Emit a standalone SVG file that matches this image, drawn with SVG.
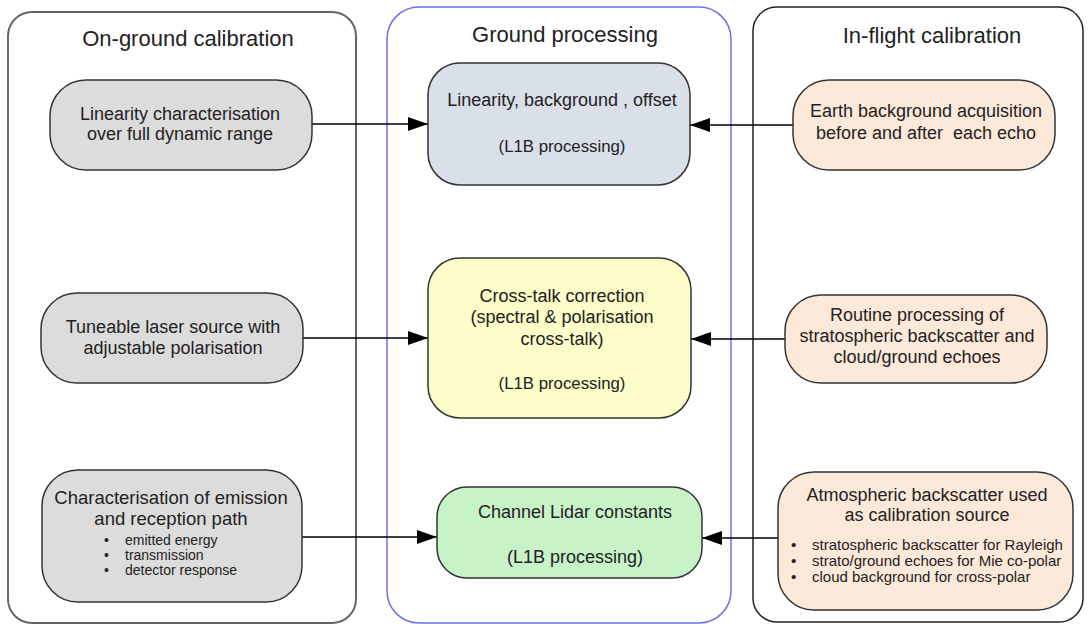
<svg xmlns="http://www.w3.org/2000/svg" width="1089" height="624" viewBox="0 0 1089 624">
<style>
text{font-family:"Liberation Sans",Arial,sans-serif;fill:#222}
.title{font-size:22px;text-anchor:middle}
.t{font-size:18px;text-anchor:middle}
.s{font-size:16.8px;text-anchor:middle}
.b{font-size:14px}
.b2{font-size:15px}
.node{stroke:#333;stroke-width:1.5}
.gray{fill:#dcdcdc}
.peach{fill:#fde9d9}
.conn line{stroke:#000;stroke-width:1.5}
</style>
<defs>
<marker id="arr" markerUnits="userSpaceOnUse" markerWidth="20" markerHeight="14" refX="20" refY="7" orient="auto">
<path d="M0,0 L20,7 L0,14 z" fill="#000"/>
</marker>
</defs>
<rect width="1089" height="624" fill="#fff"/>
<g id="panel-onground">
<rect x="8" y="12" width="348" height="611" rx="24" fill="none" stroke="#666" stroke-width="2"/>
<text class="title" x="188" y="46">On-ground calibration</text>
</g>
<g id="panel-ground">
<rect x="387" y="7" width="344" height="616" rx="32" fill="none" stroke="#7070e0" stroke-width="1.5"/>
<text class="title" x="565" y="42">Ground processing</text>
</g>
<g id="panel-inflight">
<rect x="753" y="7" width="330" height="615" rx="24" fill="none" stroke="#222" stroke-width="1.5"/>
<text class="title" x="932" y="43">In-flight calibration</text>
</g>
<g class="conn" id="connectors">
<line x1="312" y1="124" x2="428" y2="124" marker-end="url(#arr)"/>
<line x1="793" y1="125" x2="690" y2="125" marker-end="url(#arr)"/>
<line x1="303" y1="338" x2="428" y2="338" marker-end="url(#arr)"/>
<line x1="785" y1="339" x2="691" y2="339" marker-end="url(#arr)"/>
<line x1="302" y1="537" x2="437" y2="537" marker-end="url(#arr)"/>
<line x1="778" y1="538" x2="702" y2="538" marker-end="url(#arr)"/>
</g>
<g id="n-linearity-char">
<rect class="node gray" x="50" y="80" width="262" height="90" rx="36"/>
<text class="t" x="180" y="120">Linearity characterisation</text>
<text class="t" x="180" y="140">over full dynamic range</text>
</g>
<g id="n-tuneable">
<rect class="node gray" x="41" y="293" width="262" height="90" rx="36"/>
<text class="t" x="173" y="333">Tuneable laser source with</text>
<text class="t" x="173" y="354">adjustable polarisation</text>
</g>
<g id="n-emission">
<rect class="node gray" x="42" y="470" width="260" height="132" rx="36"/>
<text class="t" x="171" y="504" style="font-size:18.5px">Characterisation of emission</text>
<text class="t" x="171" y="525" style="font-size:18.5px">and reception path</text>
<text class="b" x="104" y="545">•</text><text class="b" x="125" y="545">emitted energy</text>
<text class="b" x="104" y="560">•</text><text class="b" x="125" y="560">transmission</text>
<text class="b" x="104" y="575">•</text><text class="b" x="125" y="575">detector response</text>
</g>
<g id="n-linearity-bg">
<rect class="node" x="428" y="63" width="262" height="122" rx="32" fill="#d9e0ea"/>
<text class="t" x="562" y="106">Linearity, background , offset</text>
<text class="s" x="562" y="152">(L1B processing)</text>
</g>
<g id="n-crosstalk">
<rect class="node" x="428" y="258" width="263" height="160" rx="32" fill="#fdfdca" stroke="#999"/>
<text class="t" x="562" y="302">Cross-talk correction</text>
<text class="t" x="562" y="323">(spectral &amp; polarisation</text>
<text class="t" x="562" y="345">cross-talk)</text>
<text class="s" x="562" y="389">(L1B processing)</text>
</g>
<g id="n-lidar-constants">
<rect class="node" x="437" y="487" width="265" height="91" rx="30" fill="#c8f3c8"/>
<text class="t" x="575" y="518">Channel Lidar constants</text>
<text class="t" x="575" y="563">(L1B processing)</text>
</g>
<g id="n-earth-bg">
<rect class="node peach" x="793" y="80" width="262" height="90" rx="36"/>
<text class="t" x="926" y="117">Earth background acquisition</text>
<text class="t" x="926" y="139" style="white-space:pre">before and after  each echo</text>
</g>
<g id="n-routine">
<rect class="node peach" x="785" y="295" width="262" height="88" rx="36"/>
<text class="t" x="917" y="321">Routine processing of</text>
<text class="t" x="917" y="342">stratospheric backscatter and</text>
<text class="t" x="917" y="363">cloud/ground echoes</text>
</g>
<g id="n-atmospheric">
<rect class="node peach" x="778" y="472" width="295" height="138" rx="36"/>
<text class="t" x="927" y="501">Atmospheric backscatter used</text>
<text class="t" x="927" y="521">as calibration source</text>
<text class="b2" x="791" y="550">•</text><text class="b2" x="812" y="550">stratospheric backscatter for Rayleigh</text>
<text class="b2" x="791" y="566">•</text><text class="b2" x="812" y="566">strato/ground echoes for Mie co-polar</text>
<text class="b2" x="791" y="582">•</text><text class="b2" x="812" y="582">cloud background for cross-polar</text>
</g>
</svg>
